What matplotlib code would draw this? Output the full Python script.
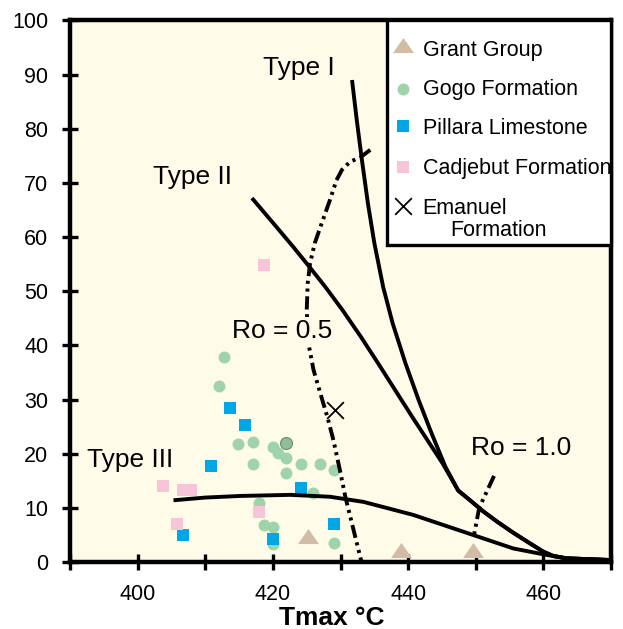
import matplotlib
matplotlib.use("Agg")
import matplotlib.pyplot as plt
from matplotlib.patches import Rectangle

plt.rcParams['font.family'] = ['Liberation Sans', 'DejaVu Sans']

# ---- palette ---------------------------------------------------------------
BG        = "#fefbe8"
C_GRANT   = "#d3bca6"
C_GOGO    = "#9fd3aa"
C_PILLARA = "#00a6e6"
C_CADJ    = "#f7c4d8"
INK       = "black"

# ---- samples (Tmax degC, HI) -----------------------------------------------
grant_t  = [425.2, 439.0, 449.6]
grant_hi = [4.8, 2.2, 2.2]

gogo_t  = [412.8, 412.0, 414.9, 417.0, 420.0, 420.8, 422.0, 417.0, 424.1,
           427.0, 429.0, 422.0, 425.9, 417.9, 418.7, 420.0, 420.0, 429.0]
gogo_hi = [37.9, 32.5, 21.8, 22.1, 21.2, 20.2, 19.2, 18.1, 18.1,
           18.1, 17.0, 16.4, 12.7, 10.9, 6.8, 6.4, 3.3, 3.5]
gogo_dark_t  = [421.9]
gogo_dark_hi = [21.9]

pillara_t  = [413.7, 415.8, 410.8, 424.1, 429.1, 406.7, 420.0]
pillara_hi = [28.4, 25.3, 17.8, 13.7, 7.1, 4.9, 4.2]

cadj_t  = [418.7, 403.7, 406.7, 407.9, 405.8, 417.9]
cadj_hi = [54.8, 14.1, 13.3, 13.3, 7.1, 9.3]

emanuel_t  = [429.2]
emanuel_hi = [28.0]

# ---- kerogen type curves ---------------------------------------------------
# shared low-HI tail where the three curves converge
tail_t  = [449.15, 451.1, 453.1, 455.55, 458.0, 460.0, 461.5, 463.4, 469.85]
tail_hi = [11.4, 9.35, 7.5, 5.4, 3.45, 1.9, 1.1, 0.68, 0.37]

type1_t  = [431.7, 432.4, 433.1, 434.05, 435.0, 436.3, 437.7, 439.6, 441.55,
            443.45, 445.5, 447.4] + tail_t
type1_hi = [89.0, 81.6, 74.8, 66.2, 58.9, 50.8, 44.1, 36.7, 29.9,
            23.8, 17.6, 13.2] + tail_hi

type2_t  = [416.9, 420.1, 423.0, 425.4, 427.75, 430.3, 433.0, 435.55, 438.05,
            440.6, 442.85, 445.1, 447.4] + tail_t
type2_hi = [67.2, 62.5, 58.2, 54.5, 50.8, 46.5, 41.6, 36.7, 31.8,
            26.8, 22.5, 18.2, 13.2] + tail_hi

type3_t  = [405.3, 410.0, 415.2, 422.6, 428.45, 433.4, 440.75, 448.15, 455.55,
            460.5] + tail_t[-3:]
type3_hi = [11.4, 11.9, 12.2, 12.4, 12.05, 11.1, 8.7, 5.6, 2.5,
            1.3] + tail_hi[-3:]

# ---- vitrinite reflectance lines -------------------------------------------
ro05_t  = [434.4, 432.9, 431.4, 430.2, 429.4, 428.45, 427.2, 426.2, 425.5,
           425.15, 425.0, 425.25, 426.0, 427.0, 428.05, 428.95, 429.9, 430.7,
           433.1]
ro05_hi = [76.1, 74.7, 73.9, 72.4, 70.5, 66.9, 62.5, 58.9, 55.2,
           51.5, 46.5, 40.4, 35.5, 31.2, 26.8, 22.5, 17.0, 12.1,
           0.0]

ro10_t  = [452.7, 450.5, 449.7]
ro10_hi = [15.9, 10.0, 4.7]

fig = plt.figure(figsize=(6.23, 6.29), dpi=100)
ax = fig.add_axes([0.1124, 0.1065, 0.8684, 0.8610])
ax.set_facecolor(BG)
ax.set_xlim(390, 470)
ax.set_ylim(0, 100)

tri = [(-1, -0.72), (1, -0.72), (0, 0.72)]
ax.scatter(gogo_t, gogo_hi, s=74, marker="o", color=C_GOGO, lw=0, zorder=2)
ax.scatter(gogo_dark_t, gogo_dark_hi, s=74, marker="o", facecolor="#8fbf99",
           edgecolor="#6b8a72", lw=0.8, zorder=2)
ax.scatter(pillara_t, pillara_hi, s=74, marker="s", color=C_PILLARA, lw=0, zorder=2)
ax.scatter(cadj_t, cadj_hi, s=74, marker="s", color=C_CADJ, lw=0, zorder=2)
ax.scatter(grant_t, grant_hi, s=15.1**2, marker=tri, color=C_GRANT, lw=0, zorder=2)

LW = 2.8
for t, hi in [(type1_t, type1_hi), (type2_t, type2_hi), (type3_t, type3_hi)]:
    ax.plot(t, hi, color=INK, lw=LW, solid_capstyle="butt",
            solid_joinstyle="round", zorder=3)

dashdotdot = (0, (3.4, 1.2, 0.8, 1.2, 0.8, 1.2))
ax.plot(ro05_t, ro05_hi, color=INK, lw=LW, ls=dashdotdot, zorder=3)
ax.plot(ro10_t, ro10_hi, color=INK, lw=LW, ls=dashdotdot, zorder=3)

ax.scatter(emanuel_t, emanuel_hi, s=12**2, marker="x", color=INK, lw=1.3, zorder=4)

# ---- curve labels ----------------------------------------------------------
fs_lab = 19
ax.text(418.6, 89.9, "Type I", fontsize=fs_lab, va="baseline", ha="left", zorder=5)
ax.text(402.3, 69.8, "Type II", fontsize=fs_lab, va="baseline", ha="left", zorder=5)
ax.text(392.5, 17.6, "Type III", fontsize=fs_lab, va="baseline", ha="left", zorder=5)
ax.text(414.0, 41.3, "Ro = 0.5", fontsize=fs_lab, va="baseline", ha="left", zorder=5,
        bbox=dict(boxstyle="square,pad=0.1", fc=BG, ec="none"))
ax.text(449.3, 19.7, "Ro = 1.0", fontsize=fs_lab, va="baseline", ha="left", zorder=5)

# ---- axes styling ----------------------------------------------------------
ax.set_xticks(range(390, 471, 10))
ax.set_xticklabels([str(v) if v in (400, 420, 440, 460) else "" for v in range(390, 471, 10)])
ax.set_yticks(range(0, 101, 10))
ax.tick_params(direction="inout", length=11, width=2.4, labelsize=15.5, pad=10,
               color=INK)
for sp in ax.spines.values():
    sp.set_linewidth(3.2)
ax.set_xlabel("Tmax \u00b0C", fontsize=19, fontweight="bold", labelpad=2)
ax.xaxis.set_label_coords((331.7 - 70) / 541, -(625 - 562) / 541.5, transform=ax.transAxes)
ax.xaxis.label.set_va("baseline")

# ---- legend box (hand placed) ---------------------------------------------
def px2ax(px, py):
    return (px - 70) / 541, (562 - py) / 541.5

x0, y0 = px2ax(387, 245)
ax.add_patch(Rectangle((x0, y0), 1 - x0, 1 - y0, transform=ax.transAxes,
                       facecolor="white", edgecolor=INK, lw=2.4, zorder=6,
                       clip_on=False))
fs_leg = 15.5
entries = [
    (45, 55.7, dict(marker=tri, s=15.1**2, color=C_GRANT, lw=0), "Grant Group"),
    (89, 95, dict(marker="o", s=74, color=C_GOGO, lw=0), "Gogo Formation"),
    (126, 134, dict(marker="s", s=74, color=C_PILLARA, lw=0), "Pillara Limestone"),
    (166.7, 174, dict(marker="s", s=74, color=C_CADJ, lw=0), "Cadjebut Formation"),
    (206, 214, dict(marker="x", s=12**2, color=INK, lw=1.3), "Emanuel"),
]
for my, ty, kw, lab in entries:
    ax.scatter(*px2ax(402.7, my), transform=ax.transAxes, zorder=7, clip_on=False, **kw)
    ax.text(*px2ax(422.7, ty), lab, transform=ax.transAxes, fontsize=fs_leg,
            va="baseline", ha="left", zorder=7)
ax.text(*px2ax(450, 235.7), "Formation", transform=ax.transAxes, fontsize=fs_leg,
        va="baseline", ha="left", zorder=7)

fig.savefig("out.png", dpi=100, facecolor="white")
